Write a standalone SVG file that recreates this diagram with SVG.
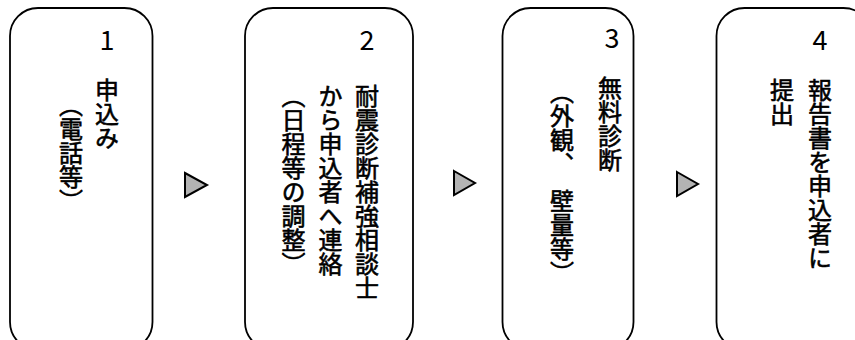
<svg xmlns="http://www.w3.org/2000/svg" width="855" height="340" viewBox="0 0 855 340">
<style>
.box{fill:#fff;stroke:#000;stroke-width:1.8}
.num{font-family:"Noto Sans CJK JP","Noto Sans",sans-serif;font-size:27px;text-anchor:middle;fill:#000}
.v{font-family:"Noto Sans CJK JP",sans-serif;font-size:24px;font-weight:normal;writing-mode:vertical-rl;letter-spacing:0;fill:#000;stroke:#000;stroke-width:0.6}
.arrow{fill:#b3b3b3;stroke:#000;stroke-width:2;stroke-linejoin:miter}
</style>
<rect width="855" height="340" fill="#fff"/>
<g id="node1">
<rect class="box" x="10" y="8" width="142.5" height="342" rx="28" ry="28"/>
<text class="num" x="107" y="50">1</text>
<text class="v" x="107" y="78">申込み</text>
<text class="v" x="71" y="93">（電話等）</text>
</g>
<g id="node2">
<rect class="box" x="245" y="8" width="168" height="342" rx="28" ry="28"/>
<text class="num" x="367" y="50">2</text>
<text class="v" x="367" y="84">耐震診断補強相談士</text>
<text class="v" x="330.5" y="84">から申込者へ連絡</text>
<text class="v" x="293.5" y="84">（日程等の調整）</text>
</g>
<g id="node3">
<rect class="box" x="502.5" y="8" width="131" height="342" rx="28" ry="28"/>
<text class="num" x="612" y="48">3</text>
<text class="v" x="610" y="76">無料診断</text>
<text class="v" x="562" y="80">（外観、 <tspan y="189">壁量等）</tspan></text>
</g>
<g id="node4">
<rect class="box" x="716.5" y="8" width="155" height="342" rx="28" ry="28"/>
<text class="num" x="820" y="50">4</text>
<text class="v" x="820" y="78">報告書を申込者に</text>
<text class="v" x="782" y="78">提出</text>
</g>
<g id="connectors">
<polygon class="arrow" points="185,173 207,185 185,197"/>
<polygon class="arrow" points="454,171 475,183 454,195"/>
<polygon class="arrow" points="677,172 698,184 677,196"/>
</g>
</svg>
